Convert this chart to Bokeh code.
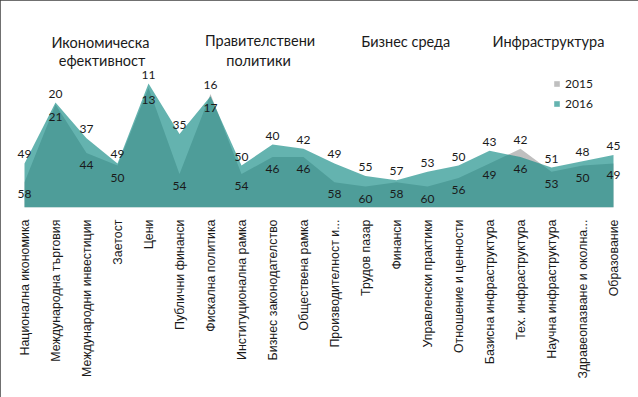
import numpy as np
from bokeh.plotting import figure
from bokeh.models import Range1d, Legend, LegendItem, Label, LabelSet, ColumnDataSource, FixedTicker
from bokeh.core.properties import value
from bokeh.embed import file_html
from bokeh.resources import INLINE

categories = [
    "Национална икономика", "Международна търговия", "Международни инвестиции",
    "Заетост", "Цени", "Публични финанси", "Фискална политика",
    "Институционална рамка", "Бизнес законодателство", "Обществена рамка",
    "Производителност и...", "Трудов пазар", "Финанси", "Управленски практики",
    "Отношение и ценности", "Базисна инфраструктура", "Тех. инфраструктура",
    "Научна инфраструктура", "Здравеопазване и околна...", "Образование",
]
rank_2015 = [58, 21, 44, 50, 13, 54, 16, 54, 46, 46, 58, 60, 58, 60, 56, 49, 42, 53, 50, 49]
rank_2016 = [49, 20, 37, 49, 11, 35, 17, 50, 40, 42, 49, 55, 57, 53, 50, 43, 46, 51, 48, 45]
series_names = ["2015", "2016"]
group_titles = [
    ("Икономическа", 2.45, -8.8), ("ефективност", 2.5, 0.0),
    ("Правителствени", 7.6, -9.4), ("политики", 7.55, 0.0),
    ("Бизнес среда", 12.3, -9.0), ("Инфраструктура", 16.9, -9.0),
]

x = list(range(len(categories)))
top_vals = np.minimum(rank_2015, rank_2016)
bot_vals = np.maximum(rank_2015, rank_2016)

src = ColumnDataSource(dict(
    x=x, r2015=rank_2015, r2016=rank_2016,
    top=top_vals, bot=bot_vals,
    top_txt=[str(v) for v in top_vals], bot_txt=[str(v) for v in bot_vals],
))

p = figure(width=638, height=397, x_range=Range1d(-19 / 31, 19 + 18 / 31), y_range=Range1d(70, -20),
           output_backend="svg", toolbar_location=None, y_axis_location=None,
           min_border_left=5, min_border_right=7, min_border_top=18, min_border_bottom=190)
p.grid.visible = False
p.outline_line_color = None
p.background_fill_color = "white"
p.border_fill_color = "white"

r15 = p.varea(x="x", y1=70, y2="r2015", source=src, fill_color="#BFBFBF")
r16 = p.varea(x="x", y1=70, y2="r2016", source=src, fill_color="#138C86", fill_alpha=0.66)

p.add_layout(LabelSet(x="x", y="top", text="top_txt", source=src, y_offset=9,
                      text_align="center", text_baseline="middle", text_font=value("Lato"),
                      text_font_size="12px", text_color="#1a1a1a"))
p.add_layout(LabelSet(x="x", y="bot", text="bot_txt", source=src, y_offset=-12,
                      text_align="center", text_baseline="middle", text_font=value("Lato"),
                      text_font_size="12px", text_color="#1a1a1a"))

for txt, gx, gy in group_titles:
    p.add_layout(Label(x=gx, y=gy, text=txt, text_align="center", text_baseline="middle",
                       text_font="Lato", text_font_size="14.5px", text_color="#1a1a1a"))

ax = p.xaxis[0]
ax.ticker = FixedTicker(ticks=x)
ax.major_label_overrides = {i: c for i, c in zip(x, categories)}
ax.major_label_orientation = np.pi / 2
ax.major_tick_line_color = None
ax.minor_tick_line_color = None
ax.axis_line_color = None
ax.major_label_standoff = 6
ax.major_label_text_font = "Liberation Sans"
ax.major_label_text_font_size = "12.4px"
ax.major_label_text_color = "#1a1a1a"

legend = Legend(items=[LegendItem(label=series_names[0], renderers=[r15]),
                       LegendItem(label=series_names[1], renderers=[r16])],
                location=(548, 96), padding=0, margin=0, spacing=5,
                glyph_width=7, glyph_height=7, label_height=12, label_standoff=5,
                label_text_font="Lato", label_text_font_size="12px", label_text_color="#1a1a1a",
                border_line_color=None, background_fill_alpha=0)
p.add_layout(legend)

p.styles = {"outline": "1px solid #404040", "outline-offset": "-1px"}

open("out.html", "w").write(file_html(p, INLINE))
